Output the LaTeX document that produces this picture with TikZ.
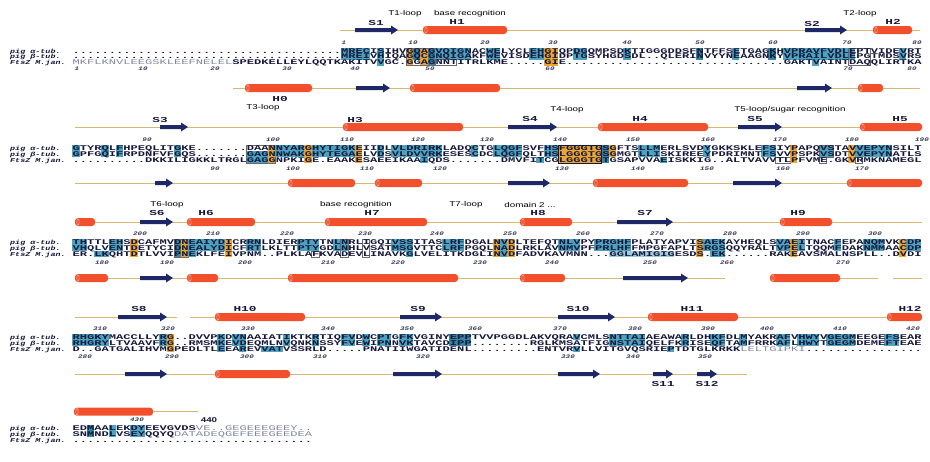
\documentclass[tikz,border=0pt]{standalone}
\usepackage{fontspec}
\usepackage{xcolor}
\usepackage{tikz}
\usetikzlibrary{calc}
\newfontfamily\seqfont[FakeStretch=1.68]{Liberation Mono}
\newfontfamily\tagfont[FakeStretch=1.4]{Liberation Mono}
\newfontfamily\notefont[FakeStretch=1.4]{Liberation Sans}
\definecolor{seqink}{RGB}{22,24,58}
\definecolor{greyink}{RGB}{128,134,160}
\definecolor{hlteal}{RGB}{76,163,192}
\definecolor{hltealdk}{RGB}{52,132,162}
\definecolor{hlorange}{RGB}{236,166,52}
\definecolor{boxgray}{RGB}{105,105,115}
\definecolor{helixred}{RGB}{242,80,44}
\definecolor{helixcap}{RGB}{250,175,155}
\definecolor{strandblue}{RGB}{30,40,102}
\definecolor{loopgold}{RGB}{214,184,112}

\begin{document}
\begin{tikzpicture}[x=1pt,y=-1pt,
  seq/.style={font=\seqfont\bfseries\fontsize{7.2}{7.5}\selectfont, text=seqink, inner sep=0pt, anchor=mid west},
  rowtag/.style={font=\tagfont\bfseries\itshape\fontsize{6}{7}\selectfont, text=seqink, inner sep=0pt, anchor=mid west},
  resnum/.style={font=\tagfont\bfseries\itshape\fontsize{5.4}{6}\selectfont, text=seqink!85, inner sep=0pt},
  sselab/.style={font=\seqfont\bfseries\fontsize{7.6}{9}\selectfont, text=seqink, inner sep=0pt},
  note/.style={font=\notefont\fontsize{7}{8}\selectfont, text=black, inner sep=0pt},
  loopln/.style={draw=loopgold, line width=0.9pt},
  boxln/.style={draw=boxgray, line width=0.5pt}]
\fill[white] (0,0) rectangle (930,461);
\useasboundingbox (0,0) rectangle (930,461);
% one column = 7.25pt, column 1 starts at x=72.4; rows 5.8pt apart
% \hl{first row}{last row}{first col}{last col}{colour}, rows 0=alpha 1=beta 2=FtsZ
\def\hl#1#2#3#4#5{\fill[#5] ({72.4+(#3-1)*7.25},{\by-3+#1*5.8}) rectangle ({72.4+#4*7.25},{\by+2.9+#2*5.8});}
\def\bx#1#2#3#4{\draw[boxln] ({72.4+(#3-1)*7.25},{\by-3+#1*5.8}) rectangle ({72.4+#4*7.25},{\by+2.9+#2*5.8});}
\def\seqrow#1#2#3{\node[seq] (#1) at (72.4,{\by+#2*5.8}) {#3};}
\def\tags#1{\node[rowtag] (#1a) at (10,\by) {pig α-tub.};
  \node[rowtag] (#1b) at (10,{\by+5.8}) {pig β-tub.};
  \node[rowtag] (#1f) at (10,{\by+11.6}) {FtsZ M.jan.};}
\def\loopseg#1#2#3{\draw[loopln] (#1,#3) -- (#2,#3);}
\def\hx#1#2#3{\fill[helixred, rounded corners=3pt] (#1,{#3-4}) rectangle (#2,{#3+4});
  \draw[helixcap, line width=0.5pt] ({#1+3},#3) ellipse (1.2 and 3.3);}
\def\strandarr#1#2#3{\fill[strandblue] (#1,{#3-2}) -- ({#2-7},{#3-2}) -- ({#2-7},{#3-4.5})
  -- (#2,#3) -- ({#2-7},{#3+4.5}) -- ({#2-7},{#3+2}) -- (#1,{#3+2}) -- cycle;}

% ---------------- block 1
\def\by{51}
\loopseg{340}{920}{30}
\strandarr{355}{398}{30} \hx{423}{507}{30} \strandarr{805}{847}{30} \hx{873}{912}{30}
\node[sselab] (s1) at (376,23) {S1};
\node[note] (t1loop) at (405,14) {T1-loop};
\node[note] (base1) at (470,14) {base recognition};
\node[sselab] (h1) at (457,22) {H1};
\node[sselab] (s2) at (812,24) {S2};
\node[note] (t2loop) at (860,14) {T2-loop};
\node[sselab] (h2) at (893,22) {H2};
\foreach \px/\nn in {344/1,413/10,485/20,553/30,627/40,700/50,773/60,847/70,917/80}
  \node[resnum] (ta1-\nn) at (\px,42.5) {\nn};
\hl{0}{1}{38}{41}{hlteal}
\hl{0}{2}{43}{43}{hlteal}
\hl{0}{2}{47}{47}{hlorange}
\hl{0}{1}{48}{48}{hltealdk}
\hl{0}{2}{49}{49}{hlorange}
\hl{0}{2}{50}{50}{hltealdk}
\bx{0}{2}{47}{50}
\hl{0}{1}{51}{55}{hlteal}
\bx{2}{2}{51}{53}
\hl{0}{1}{58}{59}{hlteal}
\hl{0}{1}{64}{65}{hlteal}
\hl{0}{2}{66}{67}{hlorange}
\hl{0}{1}{70}{71}{hlteal}
\hl{0}{1}{77}{77}{hlteal}
\hl{0}{1}{87}{87}{hltealdk}
\hl{0}{1}{92}{92}{hlteal}
\hl{0}{1}{97}{97}{hltealdk}
\hl{0}{1}{99}{104}{hlteal}
\hl{2}{2}{103}{103}{hlteal}
\hl{0}{1}{105}{108}{hlteal}
\bx{0}{2}{108}{110}
\hl{0}{1}{115}{115}{hlteal}
\tags{r1}
\seqrow{sa1}{0}{.....................................MRECISIHVGQAGVQIGNACWELYCLEHGIQPDGQMPSDKTIGGGDDSFNTFFSETGAGKHVPRAVFVDLEPTVIDEVRT}
\seqrow{sb1}{1}{.....................................MREIVHIQAGQCGNQIGAKFWEVISDEHGIDPTGSYHGDSDL..QLERINVYYNEAAGNKYVPRAILVDLEPGTMDSVRS}
\seqrow{sf1}{2}{{\mdseries\color{greyink}MKFLKNVLEEGSKLEEFNELEL}SPEDKELLEYLQQTKAKITVVGC.GGAGNNTITRLKME.....GIE..............................GAKTVAINTDAQQLIRTKA}
\foreach \px/\nn in {77/1,143/10,215/20,287/30,355/40,430/50,550/60,848/70,912/80}
  \node[resnum] (tb1-\nn) at (\px,69) {\nn};
\loopseg{233}{920}{88}
\hx{245}{312}{88} \strandarr{356}{390}{88} \hx{410}{500}{88} \strandarr{797}{832}{88} \hx{858}{883}{88}
\node[sselab] (h0) at (280,99) {H0};

% ---------------- block 2
\def\by{148.3}
\loopseg{75}{920}{127}
\strandarr{160}{188}{127} \hx{343}{463}{127} \strandarr{508}{557}{127} \hx{598}{708}{127}
\strandarr{738}{782}{127} \hx{860}{922}{127}
\node[note] (t3loop) at (263,108) {T3-loop};
\node[sselab] (s3) at (160,120) {S3};
\node[sselab] (h3) at (355,120) {H3};
\node[note] (t4loop) at (567,110) {T4-loop};
\node[sselab] (s4) at (530,119) {S4};
\node[sselab] (h4) at (640,119) {H4};
\node[sselab] (s5) at (755,119) {S5};
\node[note] (t5loop) at (790,110) {T5-loop/sugar recognition};
\node[sselab] (h5) at (900,119) {H5};
\foreach \px/\nn in {147/90,273/100,347/110,418/120,487/130,560/140,633/150,708/160,780/170,852/180,922/190}
  \node[resnum] (ta2-\nn) at (\px,139.5) {\nn};
\hl{0}{1}{1}{1}{hlteal}
\hl{0}{1}{5}{5}{hlteal}
\hl{0}{1}{7}{7}{hlteal}
\hl{0}{1}{15}{15}{hlteal}
\hl{1}{2}{25}{27}{hlteal}
\hl{0}{2}{28}{28}{hlorange}
\bx{0}{2}{25}{28}
\hl{0}{1}{29}{32}{hlteal}
\hl{0}{2}{33}{33}{hlorange}
\hl{0}{1}{34}{39}{hlteal}
\hl{0}{2}{40}{40}{hlorange}
\hl{0}{1}{43}{43}{hlteal}
\hl{0}{1}{45}{51}{hlteal}
\hl{2}{2}{49}{49}{hlteal}
\hl{0}{1}{56}{56}{hlteal}
\hl{0}{1}{59}{62}{hlteal}
\hl{2}{2}{65}{65}{hlteal}
\hl{0}{1}{66}{67}{hlteal}
\hl{0}{2}{68}{73}{hlorange}
\draw[seqink, line width=0.6pt] ({72.4+67*7.25},{\by-3}) rectangle ({72.4+73*7.25},{\by+2.9+11.6});
\hl{0}{2}{74}{74}{hltealdk}
\hl{0}{1}{75}{75}{hlorange}
\hl{0}{1}{79}{81}{hlteal}
\hl{2}{2}{82}{82}{hlteal}
\hl{0}{1}{88}{88}{hlteal}
\hl{0}{1}{96}{97}{hlteal}
\bx{2}{2}{98}{99}
\hl{0}{2}{100}{100}{hlorange}
\hl{0}{1}{104}{105}{hlteal}
\bx{0}{1}{104}{105}
\bx{2}{2}{104}{104}
\hl{0}{2}{108}{108}{hlorange}
\bx{2}{2}{109}{109}
\hl{0}{1}{109}{113}{hlteal}
\tags{r2}
\seqrow{sa2}{0}{GTYRQLFHPEQLITGKE.......DAANNYARGHYTIGKEIIDLVLDRIRKLADQCTGLQGFSVFHSFGGGTGSGFTSLLMERLSVDYGKKSKLEFSIYPAPQVSTAVVEPYNSILT}
\seqrow{sb2}{1}{GPFGQIFRPDNFVFGQS.......GAGNNWAKGHYTEGAELVDSVLDVVRKESESCDCLQGFQLTHSLGGGTGSGMGTLLISKIREEYPDRIMNTFSVVPSPKVSDTVVEPYNATLS}
\seqrow{sf2}{2}{..........DKKILIGKKLTRGLGAGGNPKIGE.EAAKESAEEIKAAIQDS.......DMVFITCGLGGGTGTGSAPVVAEISKKIG..ALTVAVVTLPFVME.GKVRMKNAMEGL}
\foreach \px/\nn in {215/90,293/100,367/110,440/120,562/130,638/140,707/150,783/160,862/170}
  \node[resnum] (tb2-\nn) at (\px,168.5) {\nn};
\loopseg{75}{920}{183}
\strandarr{155}{173}{183} \hx{288}{355}{183} \hx{375}{422}{183} \strandarr{508}{550}{183}
\hx{593}{688}{183} \strandarr{733}{782}{183} \hx{847}{922}{183}

% ---------------- block 3
\def\by{242.3}
\loopseg{75}{922}{222}
\hx{75}{95}{222} \strandarr{140}{173}{222} \hx{187}{255}{222} \hx{325}{427}{222}
\hx{520}{572}{222} \strandarr{617}{673}{222} \hx{780}{832}{222}
\node[note] (t6loop) at (167,205) {T6-loop};
\node[sselab] (s6) at (157,213) {S6};
\node[sselab] (h6) at (206,213) {H6};
\node[note] (base2) at (356,205) {base recognition};
\node[sselab] (h7) at (372,213) {H7};
\node[note] (t7loop) at (466,205) {T7-loop};
\node[note] (dom2) at (530,205) {domain 2 ...};
\node[sselab] (h8) at (538,213) {H8};
\node[sselab] (s7) at (645,213) {S7};
\node[sselab] (h9) at (798,213) {H9};
\foreach \px/\nn in {140/200,213/210,287/220,365/230,437/240,510/250,583/260,657/270,730/280,803/290,875/300}
  \node[resnum] (ta3-\nn) at (\px,233.5) {\nn};
\hl{0}{1}{1}{2}{hlteal}
\hl{0}{1}{6}{7}{hlteal}
\hl{2}{2}{4}{5}{hlteal}
\hl{0}{2}{9}{9}{hlorange}
\hl{0}{2}{15}{15}{hltealdk}
\hl{0}{2}{16}{16}{hlorange}
\bx{0}{2}{15}{16}
\hl{0}{2}{17}{17}{hlteal}
\hl{0}{1}{18}{21}{hlteal}
\hl{0}{2}{22}{22}{hlorange}
\hl{0}{1}{25}{26}{hlteal}
\hl{0}{1}{32}{34}{hlteal}
\bx{2}{2}{34}{34}
\hl{0}{1}{37}{38}{hlteal}
\bx{0}{2}{38}{38}
\bx{0}{2}{41}{41}
\hl{0}{1}{45}{47}{hlteal}
\hl{2}{2}{47}{47}{hlteal}
\hl{0}{1}{52}{54}{hlteal}
\hl{0}{2}{59}{59}{hlorange}
\hl{0}{2}{60}{60}{hlteal}
\hl{0}{2}{61}{61}{hlorange}
\hl{0}{1}{68}{70}{hlteal}
\hl{0}{1}{73}{77}{hlteal}
\hl{2}{2}{75}{83}{hlteal!55}
\hl{0}{2}{87}{87}{hlorange}
\hl{0}{1}{88}{90}{hlteal}
\hl{2}{2}{89}{90}{hlteal}
\hl{0}{1}{98}{99}{hlteal}
\hl{0}{2}{100}{100}{hlorange}
\hl{0}{1}{101}{101}{hlteal}
\hl{0}{1}{106}{106}{hlteal}
\hl{0}{1}{110}{112}{hlteal}
\hl{0}{2}{115}{115}{hlorange}
\hl{0}{1}{116}{117}{hlteal}
\tags{r3}
\seqrow{sa3}{0}{THTTLEHSDCAFMVDNEAIYDICRRNLDIERPTYTNLNRLIGQIVSSITASLRFDGALNVDLTEFQTNLVPYPRGHFPLATYAPVISAEKAYHEQLSVAEITNACFEPANQMVKCDP}
\seqrow{sb3}{1}{VHQLVENTDETYCIDNEALYDICFRTLKLTTPTYGDLNHLVSATMSGVTTCLRFPGQLNADLRKLAVNMVPFPRLHFFMPGFAPLTSRGSQQYRALTVPELTQQMFDAKNMMAACDP}
\seqrow{sf3}{2}{ER.LKQHTDTLVVIPNEKLFEIVPNM..PLKLAFKVADEVLINAVKGLVELITKDGLINVDFADVKAVMNN...GGLAMIGIGESDS.EK......RAKEAVSMALNSPLL..DVDI}
\foreach \px/\nn in {102/180,167/190,245/200,328/210,398/220,480/230,552/240,650/250,727/260,843/270}
  \node[resnum] (tb3-\nn) at (\px,262.5) {\nn};
\loopseg{75}{725}{278} \loopseg{770}{878}{278} \loopseg{893}{922}{278}
\hx{75}{108}{278} \strandarr{140}{173}{278} \hx{187}{218}{278} \hx{288}{458}{278}
\hx{520}{565}{278} \strandarr{623}{688}{278} \hx{770}{840}{278}

% ---------------- block 4
\def\by{337.3}
\loopseg{75}{177}{317} \loopseg{190}{922}{317}
\strandarr{118}{167}{317} \hx{215}{305}{317} \strandarr{400}{442}{317} \strandarr{558}{615}{317}
\hx{648}{738}{317} \hx{887}{922}{317}
\node[sselab] (s8) at (139,309) {S8};
\node[sselab] (h10) at (245,309) {H10};
\node[sselab] (s9) at (418,309) {S9};
\node[sselab] (s10) at (578,309) {S10};
\node[sselab] (h11) at (692,309) {H11};
\node[sselab] (h12) at (910,309) {H12};
\foreach \px/\nn in {100/310,168/320,248/330,328/340,407/350,475/360,560/370,635/380,708/390,767/400,840/410,913/420}
  \node[resnum] (ta4-\nn) at (\px,328.5) {\nn};
\hl{0}{1}{1}{5}{hlteal}
\hl{0}{1}{13}{13}{hlteal}
\hl{0}{2}{14}{14}{hlorange}
\hl{0}{1}{21}{21}{hlteal}
\hl{0}{1}{23}{24}{hlteal}
\hl{2}{2}{21}{21}{hlteal}
\hl{2}{2}{24}{24}{hlteal}
\hl{2}{2}{27}{29}{hlteal}
\hl{0}{1}{30}{30}{hlteal}
\hl{0}{1}{34}{34}{hlteal}
\hl{0}{1}{38}{39}{hlteal}
\hl{0}{1}{41}{41}{hlteal}
\hl{0}{1}{43}{44}{hlteal}
\hl{0}{1}{46}{47}{hlteal}
\hl{0}{1}{53}{55}{hltealdk}
\hl{0}{0}{70}{70}{hlteal}
\hl{2}{2}{70}{70}{hlteal}
\hl{0}{1}{75}{79}{hlteal}
\hl{0}{1}{85}{85}{hlteal}
\hl{2}{2}{83}{83}{hlteal}
\hl{0}{1}{89}{90}{hlteal}
\hl{0}{1}{93}{93}{hlteal}
\hl{0}{1}{98}{99}{hlteal}
\hl{0}{1}{101}{103}{hlteal}
\hl{0}{1}{105}{108}{hlteal}
\hl{0}{1}{113}{114}{hlteal}
\tags{r4}
\seqrow{sa4}{0}{RHGKYMACCLLYRG..DVVPKDVNAAIATIKTKRTIQFVDWCPTGFKVGINYEPPTVVPGGDLAKVQRAVCMLSNTTAIAEAWARLDHKFDLMYAKRAFVHWYVGEGMEEGEFSEAR}
\seqrow{sb4}{1}{RHGRYLTVAAVFRG..RMSMKEVDEQMLNVQNKNSSYFVEWIPNNVKTAVCDIPP........RGLKMSATFIGNSTAIQELFKRISEQFTAMFRRKAFLHWYTGEGMDEMEFTEAE}
\seqrow{sf4}{2}{D..GATGALIHVMGPEDLTLEEAREVVATVSSRLD.....PNATIIWGATIDENL.........ENTVRVLLVITGVQSRIEPTDTGLKRKK{\mdseries\color{greyink}LELTGIPKI}................}
\foreach \px/\nn in {85/280,172/290,247/300,320/310,423/320,568/330,633/340,705/350}
  \node[resnum] (tb4-\nn) at (\px,357) {\nn};
\loopseg{75}{747}{374}
\strandarr{125}{167}{374} \hx{215}{290}{374} \strandarr{393}{442}{374} \strandarr{558}{600}{374}
\strandarr{653}{673}{374} \strandarr{697}{717}{374}
\node[sselab] (s11) at (663,384) {S11};
\node[sselab] (s12) at (707,384) {S12};

% ---------------- block 5
\def\by{428.3}
\loopseg{74}{198}{411.7}
\hx{74}{153}{411.7}
\node[resnum] (ta5-430) at (137,420) {430};
\node[font=\notefont\bfseries\fontsize{7}{8}\selectfont, text=seqink, inner sep=0pt] (ta5-440) at (209,420) {440};
\hl{0}{1}{3}{3}{hltealdk}
\hl{0}{1}{6}{6}{hlteal}
\hl{0}{1}{9}{10}{hlteal}
\tags{r5}
\seqrow{sa5}{0}{EDMAALEKDYEEVGVDS{\mdseries\color{greyink}VE..GEGEEEGEEY..}}
\seqrow{sb5}{1}{SNMNDLVSEYQQYQ{\mdseries\color{greyink}DATADEQGEFEEEGEEDEA}}
\seqrow{sf5}{2}{.................................}
\end{tikzpicture}
\end{document}
